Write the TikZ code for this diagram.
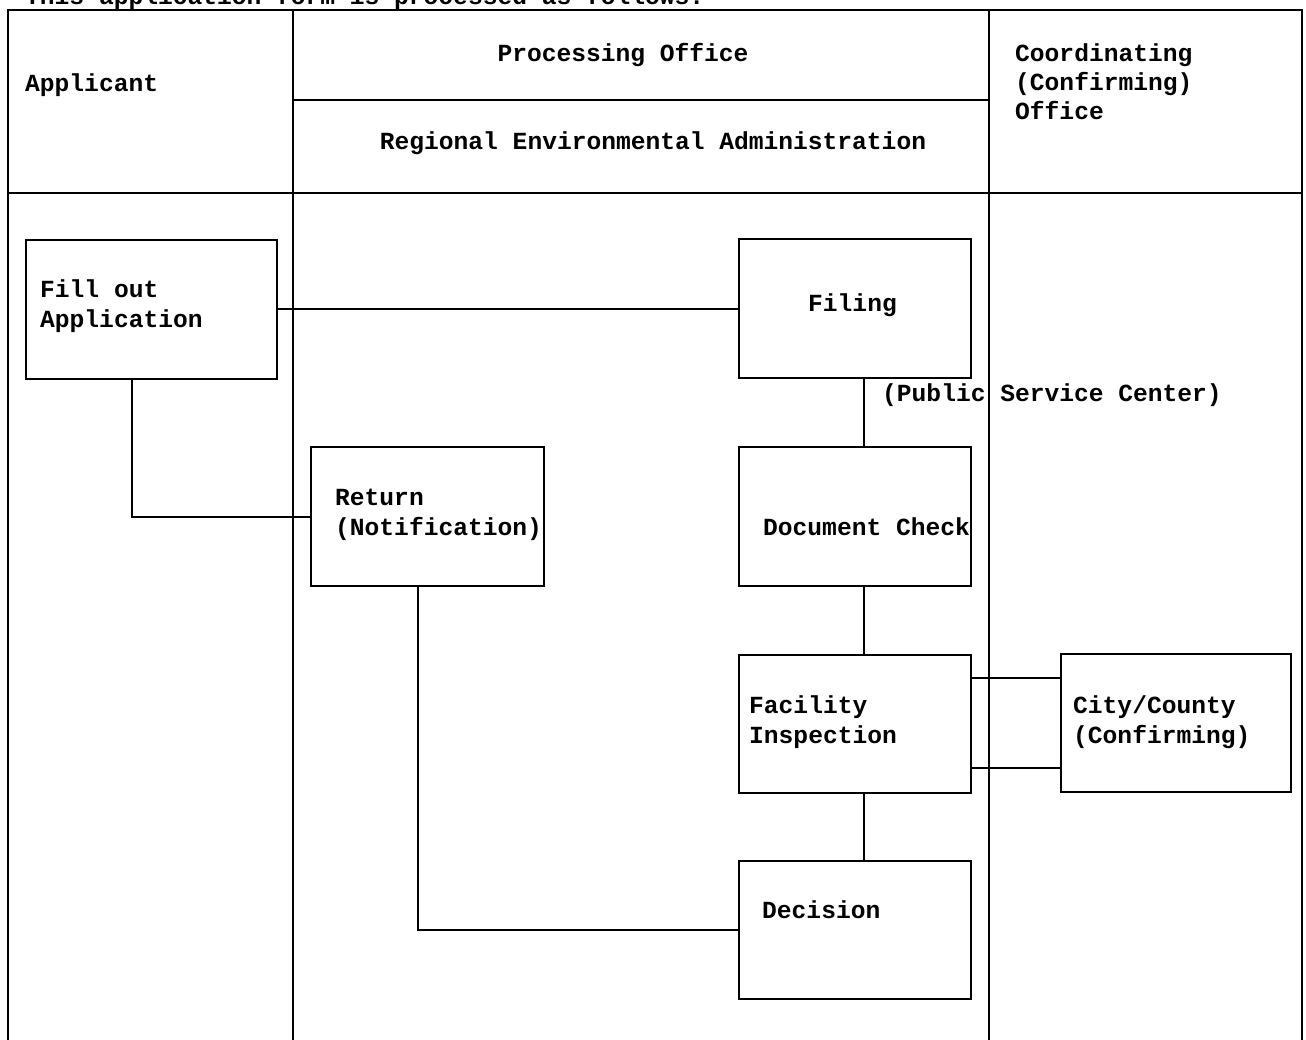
\documentclass[tikz,border=0pt]{standalone}
\usepackage{fontspec}
\setmonofont{Liberation Mono}
\begin{document}
\begin{tikzpicture}[x=1pt,y=-1pt,
  every node/.style={font=\ttfamily\bfseries\fontsize{24.6}{30}\selectfont, inner sep=0pt},
  txt/.style={anchor=base west},
  ctxt/.style={anchor=base},
  box/.style={draw, line width=2pt, anchor=north west, minimum width=#1},
  frame/.style={line width=2.4pt},
  conn/.style={line width=2pt}]
\useasboundingbox (0,0) rectangle (1306,1040);
% header text (partly cut off)
\node[txt] (title) at (25,5) {This application form is processed as follows:};
% swimlane frame
\draw[frame] (8,1040) -- (8,10) -- (1302,10) -- (1302,1040);
\draw[frame] (293,10) -- (293,1040);
\draw[frame] (989,10) -- (989,1040);
\draw[frame] (8,193) -- (1302,193);
\draw[frame] (293,100) -- (989,100);
% lane headers
\node[txt] (hApp) at (25,92) {Applicant};
\node[ctxt] (hProc) at (623,62) {Processing Office};
\node[ctxt] (hReg) at (653,150) {Regional Environmental Administration};
\node[txt] (hCo1) at (1015,62) {Coordinating};
\node[txt] (hCo2) at (1015,91) {(Confirming)};
\node[txt] (hCo3) at (1015,120) {Office};
% boxes
\node[box=251pt, minimum height=139pt] (fill) at (25,239) {};
\node[box=232pt, minimum height=139pt] (filing) at (738,238) {};
\node[box=233pt, minimum height=139pt] (ret) at (310,446) {};
\node[box=232pt, minimum height=139pt] (doc) at (738,446) {};
\node[box=232pt, minimum height=138pt] (fac) at (738,654) {};
\node[box=232pt, minimum height=138pt] (dec) at (738,860) {};
\node[box=230pt, minimum height=138pt] (city) at (1060,653) {};
% box texts
\node[txt] (tFill1) at (40,298) {Fill out};
\node[txt] (tFill2) at (40,328) {Application};
\node[txt] (tFiling) at (808,312) {Filing};
\node[txt] (tPSC) at (882,401) {(Public Service Center)};
\node[txt] (tRet1) at (335,505) {Return};
\node[txt] (tRet2) at (335,535) {(Notification)};
\node[txt] (tDoc) at (763,535) {Document Check};
\node[txt] (tFac1) at (749,713) {Facility};
\node[txt] (tFac2) at (749,743) {Inspection};
\node[txt] (tDec) at (762,918) {Decision};
\node[txt] (tCity1) at (1073,713) {City/County};
\node[txt] (tCity2) at (1073,743) {(Confirming)};
% connectors
\draw[conn] (fill.east |- 0,309) -- (filing.west |- 0,309);
\draw[conn] (fill.south -| 132,0) |- (ret.west |- 0,517);
\draw[conn] (filing.south -| 864,0) -- (doc.north -| 864,0);
\draw[conn] (doc.south -| 864,0) -- (fac.north -| 864,0);
\draw[conn] (fac.south -| 864,0) -- (dec.north -| 864,0);
\draw[conn] (ret.south -| 418,0) |- (dec.west |- 0,930);
\draw[conn] (fac.east |- 0,678) -- (city.west |- 0,678);
\draw[conn] (fac.east |- 0,768) -- (city.west |- 0,768);
\end{tikzpicture}
\end{document}
